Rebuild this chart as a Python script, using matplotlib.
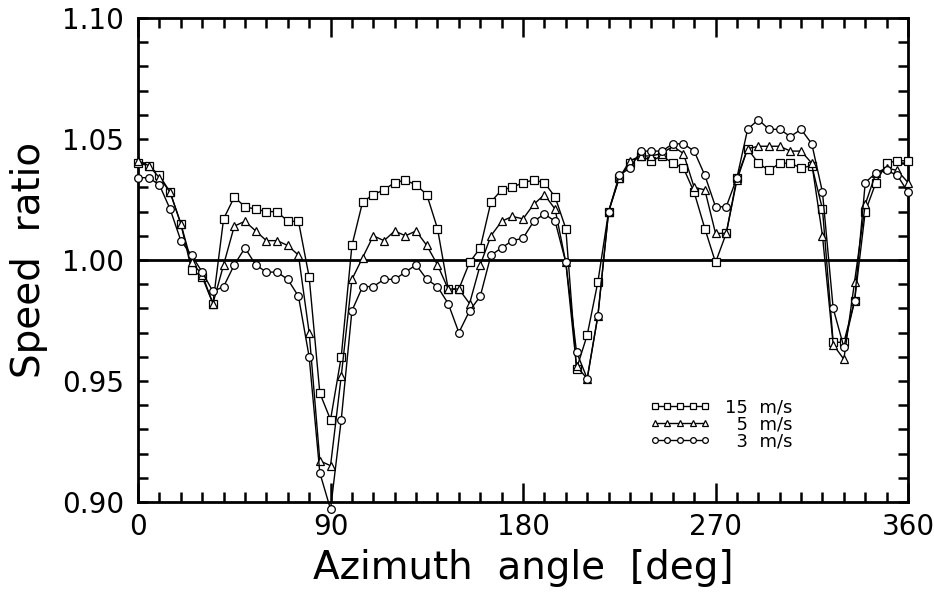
import matplotlib
matplotlib.use("Agg")
import matplotlib.pyplot as plt
import numpy as np

# azimuth angle [deg], sampled every 5 deg
angle = np.arange(0, 365, 5)

# speed ratio, 15 m/s (squares)
ratio_15 = [
    1.040, 1.039, 1.035, 1.028, 1.015, 0.996, 0.993, 0.982, 1.017, 1.026,
    1.022, 1.021, 1.020, 1.020, 1.016, 1.016, 0.993, 0.945, 0.934, 0.960,
    1.006, 1.024, 1.027, 1.029, 1.032, 1.033, 1.031, 1.027, 1.013, 0.988,
    0.988, 0.999, 1.005, 1.024, 1.029, 1.030, 1.032, 1.033, 1.032, 1.026,
    1.013, 0.955, 0.969, 0.991, 1.020, 1.034, 1.040, 1.043, 1.041, 1.043,
    1.040, 1.038, 1.028, 1.013, 0.999, 1.011, 1.034, 1.046, 1.040, 1.037,
    1.040, 1.040, 1.038, 1.039, 1.021, 0.966, 0.966, 0.983, 1.020, 1.032,
    1.040, 1.041, 1.041,
]

# speed ratio, 5 m/s (triangles)
ratio_5 = [
    1.041, 1.039, 1.034, 1.028, 1.015, 0.999, 0.994, 0.982, 0.998, 1.014,
    1.016, 1.012, 1.008, 1.008, 1.006, 1.002, 0.970, 0.917, 0.915, 0.952,
    0.992, 1.001, 1.010, 1.008, 1.012, 1.010, 1.012, 1.006, 0.998, 0.988,
    0.988, 0.982, 0.998, 1.010, 1.016, 1.018, 1.017, 1.023, 1.027, 1.021,
    0.999, 0.956, 0.951, 0.977, 1.020, 1.034, 1.041, 1.043, 1.043, 1.044,
    1.047, 1.044, 1.030, 1.029, 1.011, 1.011, 1.033, 1.046, 1.047, 1.047,
    1.047, 1.045, 1.045, 1.040, 1.010, 0.965, 0.959, 0.991, 1.023, 1.036,
    1.038, 1.037, 1.032,
]

# speed ratio, 3 m/s (circles)
ratio_3 = [
    1.034, 1.034, 1.031, 1.021, 1.008, 1.002, 0.995, 0.987, 0.989, 0.998,
    1.005, 0.998, 0.995, 0.995, 0.992, 0.985, 0.960, 0.912, 0.897, 0.934,
    0.979, 0.989, 0.989, 0.992, 0.992, 0.995, 0.998, 0.992, 0.989, 0.982,
    0.970, 0.979, 0.985, 1.002, 1.005, 1.008, 1.009, 1.016, 1.019, 1.016,
    0.999, 0.962, 0.951, 0.977, 1.020, 1.035, 1.038, 1.045, 1.045, 1.045,
    1.048, 1.048, 1.045, 1.035, 1.022, 1.022, 1.034, 1.054, 1.058, 1.054,
    1.054, 1.051, 1.054, 1.048, 1.028, 0.980, 0.964, 0.983, 1.032, 1.036,
    1.037, 1.035, 1.028,
]

series = [
    (ratio_15, "s", "15  m/s"),
    (ratio_5, "^", "  5  m/s"),
    (ratio_3, "o", "  3  m/s"),
]

fig = plt.figure(figsize=(9.34, 5.94), dpi=100)
ax = fig.add_axes([0.1478, 0.1549, 0.8244, 0.8148])

ax.axhline(1.0, color="black", lw=2.0, zorder=1)

for values, marker, label in series:
    ax.plot(angle, values, color="black", lw=1.0, marker=marker,
            markersize=5.5, markerfacecolor="white", markeredgecolor="black",
            markeredgewidth=0.9, label=label, clip_on=False, zorder=3)

ax.set_xlim(0, 360)
ax.set_ylim(0.90, 1.10)
ax.set_xticks([0, 90, 180, 270, 360])
ax.set_xticks(np.arange(0, 361, 10), minor=True)
ax.set_yticks([0.90, 0.95, 1.00, 1.05, 1.10])
ax.set_yticks(np.arange(0.90, 1.1001, 0.01), minor=True)
ax.set_yticklabels(["0.90", "0.95", "1.00", "1.05", "1.10"])

ax.tick_params(axis="both", which="both", direction="in", top=True,
               right=True, width=1.8, colors="black", labelsize=20)
ax.tick_params(axis="x", which="major", length=14, pad=8)
ax.tick_params(axis="x", which="minor", length=7)
ax.tick_params(axis="y", which="both", length=7, pad=10)

for spine in ax.spines.values():
    spine.set_linewidth(2.0)

ax.set_xlabel("Azimuth  angle  [deg]", fontsize=28, labelpad=6)
ax.set_ylabel("Speed  ratio", fontsize=28, labelpad=10)

ax.legend(loc="center", bbox_to_anchor=(0.757, 0.16), frameon=False,
          numpoints=5, handlelength=3.4, handletextpad=0.8,
          labelspacing=-0.05, fontsize=13, markerscale=0.75)

fig.savefig("out.png", dpi=100)
